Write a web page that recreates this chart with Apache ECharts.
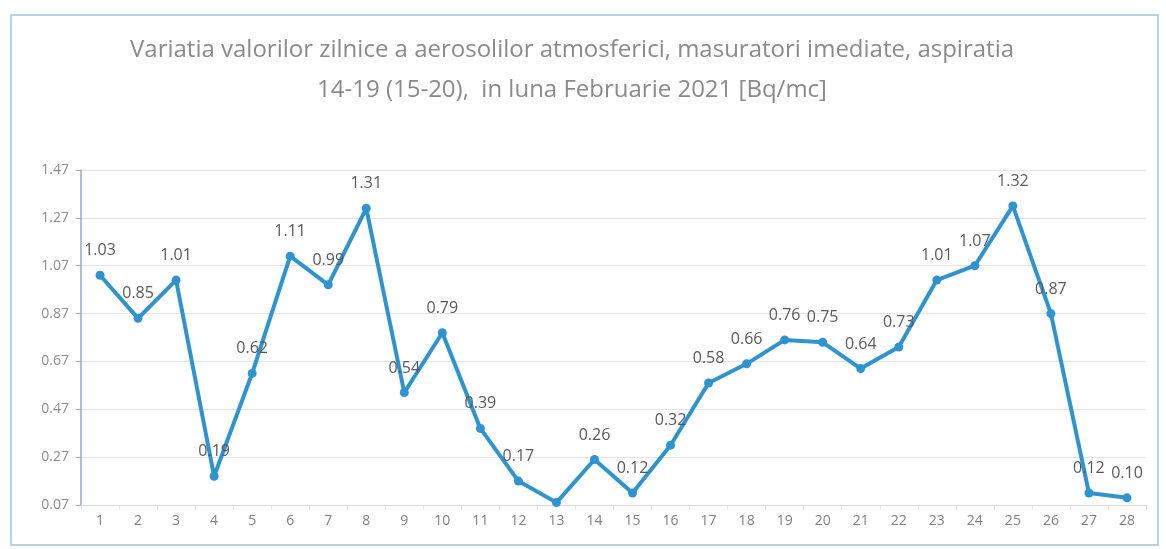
<!DOCTYPE html>
<html>
<head>
<meta charset="utf-8">
<script src="https://cdn.jsdelivr.net/npm/echarts@6/dist/echarts.min.js"></script>
<style>
html,body{margin:0;padding:0;background:#fff;}
#chart{width:1166px;height:549px;}
</style>
</head>
<body>
<div id="chart"></div>
<script>
var days = ['1','2','3','4','5','6','7','8','9','10','11','12','13','14','15','16','17','18','19','20','21','22','23','24','25','26','27','28'];
var values = [1.03,0.85,1.01,0.19,0.62,1.11,0.99,1.31,0.54,0.79,0.39,0.17,0.08,0.26,0.12,0.32,0.58,0.66,0.76,0.75,0.64,0.73,1.01,1.07,1.32,0.87,0.12,0.10];
var unlabeledDays = ['13'];
var titleLines = ['Variatia valorilor zilnice a aerosolilor atmosferici, masuratori imediate, aspiratia',
                  '14-19 (15-20),  in luna Februarie 2021 [Bq/mc]'];
var yMin = 0.07, yMax = 1.47, yStep = 0.2;

var chart = echarts.init(document.getElementById('chart'));
var seriesData = values.map(function (v, i) {
  if (unlabeledDays.indexOf(days[i]) >= 0) return {value: v, label: {show: false}};
  return v;
});
chart.setOption({
  backgroundColor: '#fff',
  animation: false,
  title: {
    text: titleLines.join('\n'),
    left: 567,
    textAlign: 'center',
    top: 25,
    textStyle: {
      fontFamily: 'Open Sans',
      fontSize: 24,
      fontWeight: 'normal',
      color: '#8a8a8a',
      lineHeight: 40
    }
  },
  graphic: [{
    type: 'rect',
    shape: {x: 11, y: 15, width: 1147, height: 530},
    style: {fill: 'none', stroke: '#9cc3e6', lineWidth: 1.5},
    silent: true
  }],
  grid: {left: 81, right: 20, top: 170, bottom: 44},
  xAxis: {
    type: 'category',
    data: days,
    boundaryGap: true,
    axisLine: {show: true, lineStyle: {color: '#d9d9d9'}},
    axisTick: {show: true, length: 4, lineStyle: {color: '#e0e0e0'}},
    axisLabel: {color: '#7f7f7f', fontSize: 14, fontFamily: 'Open Sans', margin: 9}
  },
  yAxis: {
    type: 'value',
    min: yMin,
    max: yMax,
    interval: yStep,
    axisLine: {show: true, lineStyle: {color: '#8faadc', width: 1.5}},
    axisTick: {show: true, length: 5, lineStyle: {color: '#8faadc'}},
    splitLine: {show: true, lineStyle: {color: '#e4e4e4'}},
    axisLabel: {
      color: '#8c8c8c', fontSize: 14, fontFamily: 'Open Sans', margin: 12,
      formatter: function (v) { return v.toFixed(2); }
    }
  },
  series: [{
    type: 'line',
    data: seriesData,
    symbol: 'circle',
    symbolSize: 9,
    lineStyle: {color: '#2e93cf', width: 4},
    itemStyle: {color: '#2e93cf'},
    label: {
      show: true,
      position: 'top',
      distance: 12,
      color: '#595959',
      fontSize: 16,
      fontFamily: 'Open Sans',
      formatter: function (p) { return p.value.toFixed(2); }
    }
  }]
});
</script>
</body>
</html>
